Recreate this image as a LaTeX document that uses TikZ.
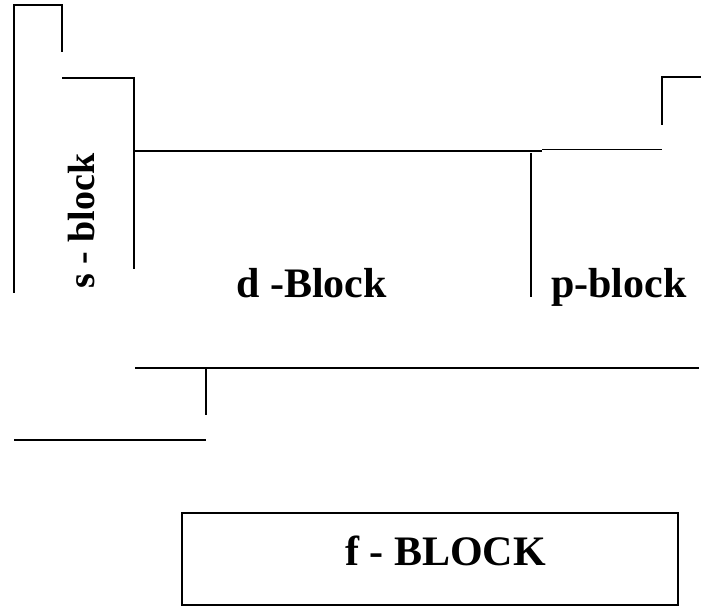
\documentclass[tikz,border=0pt]{standalone}
\usepackage{fontspec}
\setmainfont{Liberation Serif}
\begin{document}
\begin{tikzpicture}[x=1pt,y=-1pt,
  wall/.style={line width=1.4pt, line cap=butt},
  blocklabel/.style={font=\bfseries\fontsize{42}{48}\selectfont, inner sep=0pt, anchor=base west},
  slabel/.style={font=\bfseries\fontsize{38}{44}\selectfont, inner sep=0pt, anchor=base west, rotate=90}]
  \useasboundingbox (0,0) rectangle (701,609);

  % s-block outline
  \draw[wall] (14,293) -- (14,5) -- (62,5) -- (62,52);
  \draw[wall] (62,78) -- (134,78) -- (134,269);

  % top edge of the d- and p-blocks
  \draw[wall] (134,151) -- (542,151);
  \draw[wall] (542,149.5) -- (662,149.5);
  \draw[wall] (531,153) -- (531,297);
  \draw[wall] (662,125) -- (662,77) -- (701,77);

  % lower edge
  \draw[wall] (135,368) -- (699,368);
  \draw[wall] (206,368) -- (206,415);
  \draw[wall] (14,440) -- (206,440);

  % f-block box
  \draw[wall] (182,513) rectangle (678,605);

  % labels
  \node[slabel] (sblk) at (94,289) {s - block};
  \node[blocklabel] (dblk) at (236,298) {d -Block};
  \node[blocklabel] (pblk) at (551,298) {p-block};
  \node[blocklabel] (fblk) at (345,565) {f - BLOCK};
\end{tikzpicture}
\end{document}
